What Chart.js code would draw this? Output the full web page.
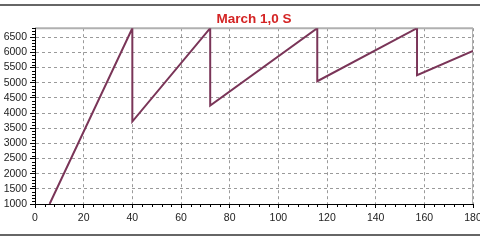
<!DOCTYPE html>
<html>
<head>
<meta charset="utf-8">
<script src="https://cdn.jsdelivr.net/npm/chart.js@4"></script>
<style>
html,body{margin:0;padding:0;background:#fff;}
canvas{display:block;}
</style>
</head>
<body>
<canvas id="c" width="480" height="240"></canvas>
<script>
const chartTitle = "March 1,0 S";
const timeValues = [6, 40, 40, 72, 72, 116, 116, 157, 157, 180];
const pressureValues = [1000, 6800, 3720, 6800, 4250, 6800, 5050, 6800, 5250, 6050];
const yTickValues = [1000,1500,2000,2500,3000,3500,4000,4500,5000,5500,6000,6500];
const xTickValues = [0,20,40,60,80,100,120,140,160,180];

const points = timeValues.map((t, i) => ({x: t, y: pressureValues[i]}));

const decor = {
  id: 'decor',
  beforeDraw(chart) {
    const ctx = chart.ctx;
    ctx.save();
    ctx.strokeStyle = '#666';
    ctx.lineWidth = 2;
    ctx.beginPath();
    ctx.moveTo(0, 5); ctx.lineTo(480, 5);
    ctx.moveTo(0, 235); ctx.lineTo(480, 235);
    ctx.stroke();
    ctx.restore();
  },
  beforeDatasetsDraw(chart) {
    const {ctx, chartArea: a} = chart;
    ctx.save();
    ctx.strokeStyle = '#b0b0b0';
    ctx.lineWidth = 2;
    ctx.beginPath();
    ctx.moveTo(a.left, a.top); ctx.lineTo(a.right, a.top);
    ctx.stroke();
    ctx.lineWidth = 1;
    ctx.beginPath();
    ctx.moveTo(a.right - 0.5, a.top); ctx.lineTo(a.right - 0.5, a.bottom);
    ctx.stroke();
    ctx.restore();
  },
  afterDraw(chart) {
    const {ctx, chartArea: a, scales} = chart;
    ctx.save();
    ctx.strokeStyle = '#000';
    ctx.lineWidth = 1;
    ctx.beginPath();
    for (let v = 4; v < 180; v += 4) {
      if (v % 20 === 0) continue;
      const px = Math.round(scales.x.getPixelForValue(v)) + 0.5;
      ctx.moveTo(px, a.bottom); ctx.lineTo(px, a.bottom + 3);
    }
    for (let v = 1100; v <= 6800; v += 100) {
      if (v % 500 === 0) continue;
      const py = Math.round(scales.y.getPixelForValue(v)) + 0.5;
      ctx.moveTo(a.left - 3, py); ctx.lineTo(a.left + 1, py);
    }
    ctx.stroke();
    ctx.restore();
  }
};

const plainLabel = v => String(v);

new Chart(document.getElementById('c'), {
  type: 'line',
  data: {
    datasets: [{
      data: points,
      borderColor: '#7a3558',
      borderWidth: 2,
      pointRadius: 0,
      tension: 0,
      fill: false
    }]
  },
  options: {
    responsive: false,
    animation: false,
    layout: {padding: {left: 0, right: 7, top: 0, bottom: 0}},
    plugins: {
      legend: {display: false},
      tooltip: {enabled: false},
      title: {
        display: true,
        text: chartTitle,
        fullSize: false,
        color: '#d42424',
        font: {family: 'Liberation Sans, Arial, sans-serif', size: 13.5, weight: 'bold'},
        padding: {top: 11, bottom: 1}
      }
    },
    scales: {
      x: {
        type: 'linear',
        min: 0, max: 180,
        afterBuildTicks: s => { s.ticks = xTickValues.map(v => ({value: v})); },
        afterFit: s => { s.height = 36; s.paddingLeft = 0; s.paddingRight = 0; },
        ticks: {
          color: '#222',
          font: {family: 'Liberation Sans, Arial, sans-serif', size: 10.5},
          padding: 4,
          maxRotation: 0,
          autoSkip: false,
          callback: plainLabel
        },
        grid: {color: '#9a9a9a', tickColor: '#000', tickLength: 4, lineWidth: 1},
        border: {color: '#000', width: 1, dash: [3, 3]}
      },
      y: {
        min: 1000, max: 6800,
        afterBuildTicks: s => { s.ticks = yTickValues.map(v => ({value: v})); },
        afterFit: s => { s.width = 35; s.paddingTop = 0; s.paddingBottom = 0; },
        ticks: {
          color: '#222',
          font: {family: 'Liberation Sans, Arial, sans-serif', size: 10.5},
          padding: 3,
          autoSkip: false,
          callback: plainLabel
        },
        grid: {color: '#9a9a9a', tickColor: '#000', tickLength: 5, lineWidth: 1},
        border: {color: '#000', width: 1, dash: [3, 3]}
      }
    }
  },
  plugins: [decor]
});
</script>
</body>
</html>
